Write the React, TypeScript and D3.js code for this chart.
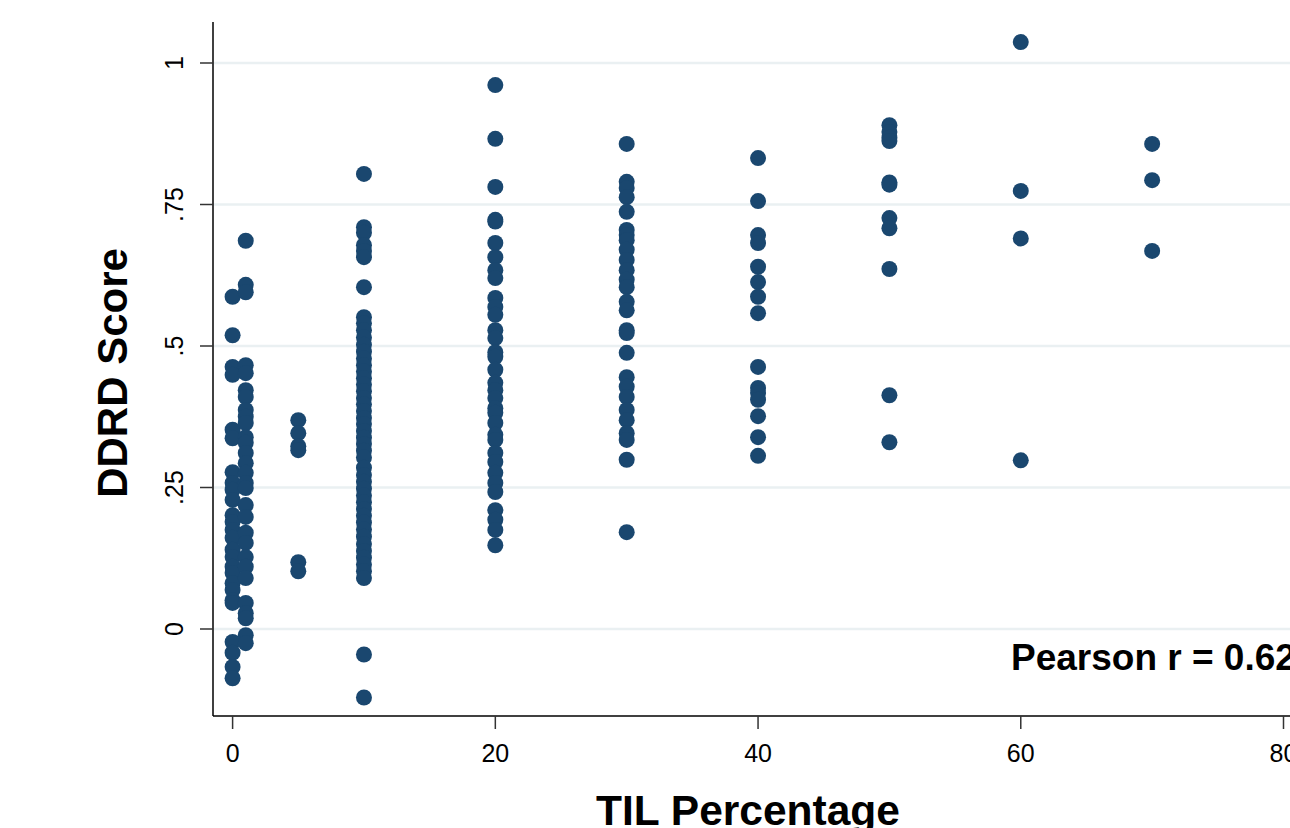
import * as d3 from 'd3';

// DDRD scores by TIL percentage
const til0 = [
  0.587, 0.519, 0.463, 0.449, 0.352, 0.337, 0.277, 0.258, 0.246, 0.228, 0.201,
  0.189, 0.175, 0.161, 0.14, 0.127, 0.11, 0.099, 0.081, 0.069, 0.051, 0.046,
  -0.023, -0.042, -0.067, -0.087,
];
const til1 = [
  0.686, 0.608, 0.595, 0.466, 0.452, 0.422, 0.41, 0.387, 0.375, 0.364, 0.339,
  0.329, 0.311, 0.293, 0.276, 0.258, 0.249, 0.219, 0.198, 0.17, 0.152, 0.127,
  0.11, 0.09, 0.046, 0.028, 0.019, -0.011, -0.025,
];
const til5 = [0.369, 0.346, 0.323, 0.316, 0.118, 0.102];
const til10 = [
  0.804, 0.71, 0.7, 0.678, 0.668, 0.657, 0.604, 0.551, 0.54, 0.528, 0.515,
  0.502, 0.49, 0.478, 0.466, 0.455, 0.443, 0.432, 0.42, 0.408, 0.397, 0.385,
  0.373, 0.362, 0.35, 0.338, 0.327, 0.315, 0.303, 0.285, 0.272, 0.26, 0.248,
  0.236, 0.224, 0.212, 0.2, 0.188, 0.176, 0.163, 0.15, 0.138, 0.126, 0.114,
  0.102, 0.09, -0.045, -0.121,
];
const til20 = [
  0.961, 0.866, 0.781, 0.723, 0.72, 0.682, 0.657, 0.634, 0.62, 0.585, 0.569,
  0.555, 0.528, 0.514, 0.489, 0.481, 0.458, 0.435, 0.422, 0.408, 0.39, 0.382,
  0.364, 0.343, 0.334, 0.311, 0.295, 0.276, 0.258, 0.242, 0.21, 0.193, 0.175,
  0.148,
];
const til30 = [
  0.857, 0.79, 0.779, 0.763, 0.737, 0.705, 0.696, 0.687, 0.67, 0.652, 0.634,
  0.617, 0.604, 0.578, 0.563, 0.528, 0.523, 0.488, 0.445, 0.428, 0.41, 0.387,
  0.369, 0.346, 0.334, 0.299, 0.171,
];
const til40 = [
  0.832, 0.756, 0.696, 0.682, 0.64, 0.613, 0.587, 0.558, 0.463, 0.426, 0.417,
  0.405, 0.376, 0.339, 0.306,
];
const til50 = [
  0.89, 0.878, 0.868, 0.862, 0.789, 0.785, 0.726, 0.708, 0.636, 0.413, 0.33,
];
const til60 = [1.037, 0.774, 0.69, 0.298];
const til70 = [0.857, 0.793, 0.668];

const columns: [number, number[]][] = [
  [0, til0],
  [1, til1],
  [5, til5],
  [10, til10],
  [20, til20],
  [30, til30],
  [40, til40],
  [50, til50],
  [60, til60],
  [70, til70],
];

const xTicks = [0, 20, 40, 60, 80];
const yTicks = [0, 0.25, 0.5, 0.75, 1];
const yTickLabels = ['0', '.25', '.5', '.75', '1'];

const width = 1290;
const height = 828;
const font = '"Liberation Sans", Arial, sans-serif';
const navy = '#1a476f';

const App = () => {
  const xScale = d3.scaleLinear().domain([0, 80]).range([232.6, 1283.5]);
  const yScale = d3.scaleLinear().domain([0, 1]).range([629, 63]);

  const axisX = 213;
  const axisY = 716;
  const axisTop = 22;

  const points = columns.flatMap(([til, vals]) =>
    vals.map((v) => ({ til, v }))
  );

  return (
    <svg
      width={width}
      height={height}
      style={{ position: 'absolute', left: 0, top: 0, background: 'white' }}
      fontFamily={font}
    >
      {/* gridlines */}
      {yTicks.map((t) => (
        <line
          key={'g' + t}
          x1={axisX + 1}
          x2={width}
          y1={yScale(t)}
          y2={yScale(t)}
          stroke='#eaf0f2'
          strokeWidth={2.5}
        />
      ))}

      {/* points */}
      {points.map((d, i) => (
        <circle
          key={i}
          cx={xScale(d.til)}
          cy={yScale(d.v)}
          r={8}
          fill={navy}
        />
      ))}

      {/* y axis */}
      <line x1={axisX} x2={axisX} y1={axisTop} y2={axisY} stroke='black' strokeWidth={1.5} />
      {yTicks.map((t, i) => (
        <g key={'y' + t} transform={`translate(0,${yScale(t)})`}>
          <line x1={axisX - 13} x2={axisX} stroke='#333' strokeWidth={1.5} />
          <text
            transform={`translate(${axisX - 30},0) rotate(-90)`}
            textAnchor='middle'
            fontSize={25}
            fill='black'
          >
            {yTickLabels[i]}
          </text>
        </g>
      ))}

      {/* x axis */}
      <line x1={axisX} x2={width} y1={axisY} y2={axisY} stroke='black' strokeWidth={1.5} />
      {xTicks.map((t) => (
        <g key={'x' + t} transform={`translate(${xScale(t)},0)`}>
          <line y1={axisY} y2={axisY + 13} stroke='#333' strokeWidth={1.5} />
          <text y={762} textAnchor='middle' fontSize={25} fill='black'>
            {t}
          </text>
        </g>
      ))}

      {/* titles */}
      <text
        x={748}
        y={825}
        textAnchor='middle'
        fontSize={42.5}
        fontWeight='bold'
      >
        TIL Percentage
      </text>
      <text
        transform={`translate(127,${373}) rotate(-90)`}
        textAnchor='middle'
        fontSize={42}
        fontWeight='bold'
      >
        DDRD Score
      </text>

      <text x={1011} y={670} fontSize={37} fontWeight='bold'>
        Pearson r = 0.62
      </text>
    </svg>
  );
};

export default App;
